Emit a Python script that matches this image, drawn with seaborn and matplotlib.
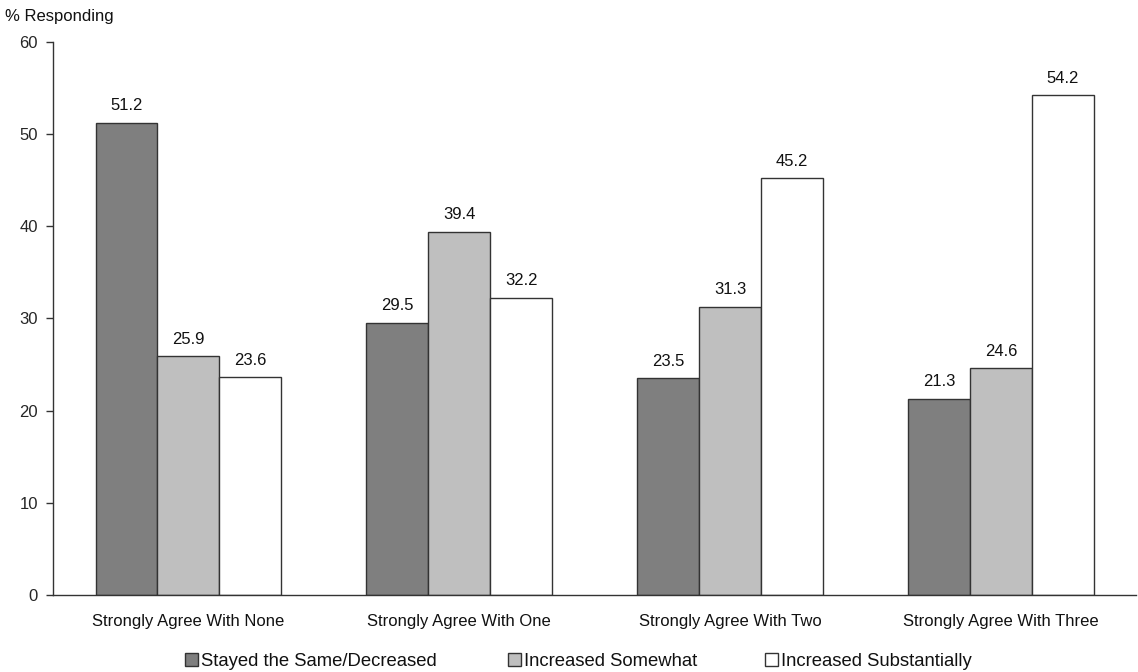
import matplotlib
matplotlib.use("Agg")
import matplotlib.pyplot as plt
from matplotlib.patches import Patch
from matplotlib.ticker import FixedLocator
import seaborn as sns
import pandas as pd

categories = ["Strongly Agree With None", "Strongly Agree With One",
              "Strongly Agree With Two", "Strongly Agree With Three"]
series = ["Stayed the Same/Decreased", "Increased Somewhat", "Increased Substantially"]
stayed = [51.2, 29.5, 23.5, 21.3]
somewhat = [25.9, 39.4, 31.3, 24.6]
substantially = [23.6, 32.2, 45.2, 54.2]
y_ticks = [0, 10, 20, 30, 40, 50, 60]

colors = ["#7f7f7f", "#bfbfbf", "#ffffff"]

rows = []
for name, vals in zip(series, [stayed, somewhat, substantially]):
    for cat, v in zip(categories, vals):
        rows.append({"category": cat, "series": name, "value": v})
df = pd.DataFrame(rows)

sns.set_style("white")
plt.rcParams["font.family"] = ["Liberation Sans", "DejaVu Sans"]
fs = 12

fig = plt.figure(figsize=(11.38, 6.72), dpi=100)
ax = fig.add_axes([0.0466, 0.1146, 0.952, 0.8229])

sns.barplot(data=df, x="category", y="value", hue="series", order=categories,
            hue_order=series, palette=colors, width=0.686, gap=0,
            edgecolor="#333333", linewidth=1.0, saturation=1, ax=ax, legend=False)

for container in ax.containers:
    ax.bar_label(container, fmt="%.1f", padding=7, fontsize=fs, color="#111111")

ax.set_ylim(0, 60)
ax.set_xlim(-0.5, 3.5)
ax.set_yticks(y_ticks)
ax.set_xlabel("")
ax.set_ylabel("")
ax.xaxis.set_minor_locator(FixedLocator([0.5, 1.5, 2.5]))
ax.tick_params(axis="x", which="major", length=0, pad=14, labelsize=fs, colors="#111111")
ax.tick_params(axis="x", which="minor", length=5, width=1, color="#333333", direction="out")
ax.tick_params(axis="y", length=5, width=1, color="#333333", direction="out", pad=6,
               labelsize=fs, left=True)
for side in ["top", "right"]:
    ax.spines[side].set_visible(False)
for side in ["left", "bottom"]:
    ax.spines[side].set_color("#333333")
    ax.spines[side].set_linewidth(1.0)

fig.text(0.004, 0.975, "% Responding", fontsize=fs, ha="left", va="center", color="#111111")

# one legend entry per series, each anchored at its own horizontal slot
legend_x = [0.1626, 0.4464, 0.6722]
for c, name, x in zip(colors, series, legend_x):
    h = Patch(facecolor=c, edgecolor="#333333", linewidth=1.0)
    leg = fig.legend([h], [name], loc="center left", bbox_to_anchor=(x, 0.015),
                     frameon=False, fontsize=13.3, handlelength=0.7, handleheight=0.7,
                     handletextpad=0.15, borderpad=0, borderaxespad=0)
    for t in leg.get_texts():
        t.set_color("#111111")

fig.savefig("out.png", dpi=100)
